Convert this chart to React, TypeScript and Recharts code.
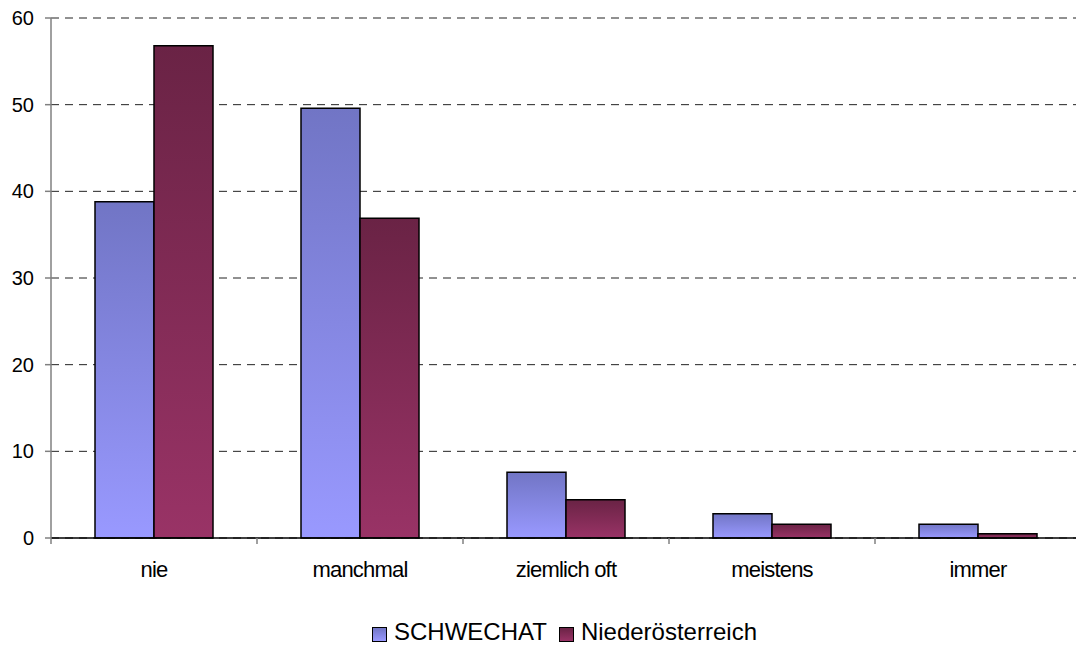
import React from "react";
import { BarChart, Bar, XAxis, YAxis, CartesianGrid } from "recharts";

const categories = ["nie", "manchmal", "ziemlich oft", "meistens", "immer"];
const schwechat = [38.8, 49.6, 7.6, 2.8, 1.6];
const niederoesterreich = [56.8, 36.9, 4.4, 1.6, 0.5];
const yTicks = [0, 10, 20, 30, 40, 50, 60];
const seriesNames = ["SCHWECHAT", "Niederösterreich"];

const data = categories.map((c, i) => ({
  name: c,
  schwechat: schwechat[i],
  noe: niederoesterreich[i],
}));

const FONT = "'Liberation Sans', Arial, sans-serif";

const XTick = (props: any) => {
  const { x, y, payload } = props;
  const off = payload.offset ?? 0;
  return (
    <g>
      <line x1={x - off} x2={x - off} y1={y - 6} y2={y} stroke="#808080" strokeWidth={1.5} />
      <text
        x={x}
        y={y + 33}
        textAnchor="middle"
        fontFamily={FONT}
        fontSize={22}
        letterSpacing={-0.8}
        fill="#000"
      >
        {payload.value}
      </text>
    </g>
  );
};

const LegendBox = ({ from, to }: { from: string; to: string }) => (
  <span
    style={{
      display: "inline-block",
      boxSizing: "border-box",
      width: 15,
      height: 15,
      border: "1.5px solid #000",
      background: `linear-gradient(${from}, ${to})`,
      marginRight: 7,
      verticalAlign: "middle",
      position: "relative",
      top: 1,
    }}
  />
);

export default function App() {
  return (
    <div
      style={{
        position: "fixed",
        top: 0,
        left: 0,
        width: 1076,
        height: 647,
        overflow: "hidden",
        background: "#fff",
      }}
    >
      <BarChart
        width={1090}
        height={647}
        data={data}
        margin={{ top: 18, right: 9, bottom: 0, left: 0 }}
        barCategoryGap={44}
        barGap={0}
      >
        <defs>
          <linearGradient id="gradSchwechat" x1="0" y1="0" x2="0" y2="1">
            <stop offset="0%" stopColor="#7175C5" />
            <stop offset="100%" stopColor="#9999FF" />
          </linearGradient>
          <linearGradient id="gradNoe" x1="0" y1="0" x2="0" y2="1">
            <stop offset="0%" stopColor="#6A2345" />
            <stop offset="100%" stopColor="#993366" />
          </linearGradient>
        </defs>
        <CartesianGrid
          vertical={false}
          stroke="#222"
          strokeDasharray="8 6"
          strokeWidth={1}
        />
        <XAxis
          dataKey="name"
          height={109}
          tickSize={6}
          tickMargin={0}
          tickLine={false}
          axisLine={{ stroke: "#000", strokeWidth: 1.5 }}
          tick={<XTick />}
          interval={0}
        />
        <YAxis
          width={51}
          domain={[0, 60]}
          ticks={yTicks}
          interval={0}
          tickSize={6}
          tickMargin={11}
          axisLine={{ stroke: "#808080", strokeWidth: 1.5 }}
          tickLine={{ stroke: "#808080", strokeWidth: 1.5 }}
          tick={{ fill: "#000", fontSize: 20, fontFamily: FONT }}
        />
        <Bar
          dataKey="schwechat"
          name={seriesNames[0]}
          fill="url(#gradSchwechat)"
          stroke="#000"
          strokeWidth={1.5}
          isAnimationActive={false}
        />
        <Bar
          dataKey="noe"
          name={seriesNames[1]}
          fill="url(#gradNoe)"
          stroke="#000"
          strokeWidth={1.5}
          isAnimationActive={false}
        />
      </BarChart>
      <div
        style={{
          position: "absolute",
          top: 618,
          left: 0,
          width: 1129,
          textAlign: "center",
          fontFamily: FONT,
          fontSize: 24,
          lineHeight: "28px",
          color: "#000",
          whiteSpace: "nowrap",
        }}
      >
        <LegendBox from="#7175C5" to="#9999FF" />
        <span style={{ marginRight: 12 }}>{seriesNames[0]}</span>
        <LegendBox from="#6A2345" to="#993366" />
        <span>{seriesNames[1]}</span>
      </div>
    </div>
  );
}
